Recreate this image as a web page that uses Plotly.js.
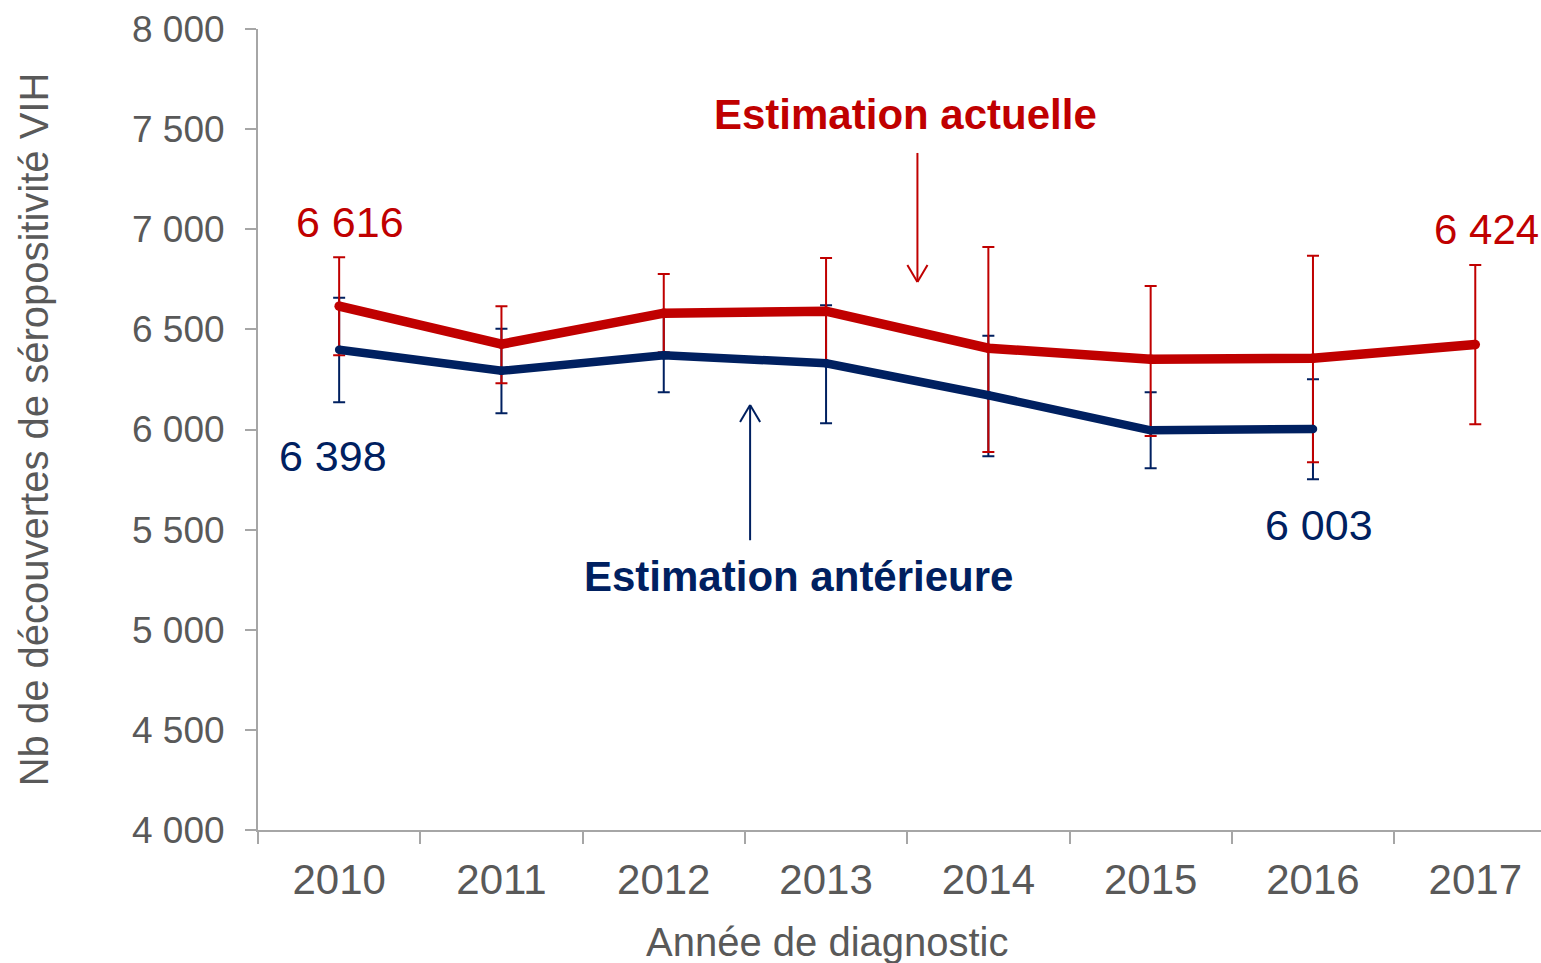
<!DOCTYPE html>
<html>
<head>
<meta charset="utf-8">
<script src="https://cdn.plot.ly/plotly-3.0.1.min.js"></script>
<style>
html,body{margin:0;padding:0;background:#fff;}
#chart{width:1541px;height:963px;}
</style>
</head>
<body>
<div id="chart"></div>
<script>
// ---- data ----
const years = ['2010','2011','2012','2013','2014','2015','2016','2017'];

const actuelle      = [6616, 6426, 6581, 6591, 6406, 6351, 6356, 6424];
const actuelleHigh  = [6860, 6616, 6776, 6856, 6911, 6716, 6868, 6821];
const actuelleLow   = [6371, 6231, 6386, 6326, 5888, 5967, 5836, 6026];

const anterieure     = [6398, 6293, 6371, 6331, 6171, 5996, 6003];
const anterieureHigh = [6658, 6503, 6570, 6621, 6468, 6186, 6251];
const anterieureLow  = [6136, 6081, 6186, 6031, 5866, 5806, 5751];

const yTickVals = [4000, 4500, 5000, 5500, 6000, 6500, 7000, 7500, 8000];

const RED = '#C00000';
const NAVY = '#002060';
const GREY = '#595959';
const AXIS = '#A6A6A6';
const FONT = 'Liberation Sans, Arial, Helvetica, sans-serif';

function fmt(v){ return String(v).replace(/\B(?=(\d{3})+(?!\d))/g, ' '); }
function plus(hi, v){ return hi.map((h,i)=>h - v[i]); }
function minus(lo, v){ return lo.map((l,i)=>v[i] - l); }

const yearsAnt = years.slice(0, anterieure.length);

const traces = [
  { // navy error bars (below lines)
    x: yearsAnt, y: anterieure, type: 'scatter', mode: 'markers',
    marker: {size: 1, color: 'rgba(0,0,0,0)'},
    error_y: {type: 'data', symmetric: false, array: plus(anterieureHigh, anterieure),
              arrayminus: minus(anterieureLow, anterieure), color: NAVY, thickness: 2, width: 6},
    hoverinfo: 'skip', showlegend: false
  },
  { // red error bars
    x: years, y: actuelle, type: 'scatter', mode: 'markers',
    marker: {size: 1, color: 'rgba(0,0,0,0)'},
    error_y: {type: 'data', symmetric: false, array: plus(actuelleHigh, actuelle),
              arrayminus: minus(actuelleLow, actuelle), color: RED, thickness: 2, width: 6},
    hoverinfo: 'skip', showlegend: false
  },
  {
    x: yearsAnt, y: anterieure, type: 'scatter', mode: 'lines+markers',
    line: {color: NAVY, width: 8.5}, marker: {color: NAVY, size: 8.5},
    name: 'Estimation antérieure', showlegend: false
  },
  {
    x: years, y: actuelle, type: 'scatter', mode: 'lines+markers',
    line: {color: RED, width: 9.5}, marker: {color: RED, size: 9.5},
    name: 'Estimation actuelle', showlegend: false
  }
];

const lastA = actuelle.length - 1;
const lastB = anterieure.length - 1;

const annotations = [
  {x: 0, y: actuelle[0], text: fmt(actuelle[0]), showarrow: false,
   xshift: 11, yshift: 84, font: {family: FONT, size: 43, color: RED}},
  {x: lastA, y: actuelle[lastA], text: fmt(actuelle[lastA]), showarrow: false,
   xshift: 11, yshift: 115, font: {family: FONT, size: 42, color: RED}},
  {x: 0, y: anterieure[0], text: fmt(anterieure[0]), showarrow: false,
   xshift: -6, yshift: -106, font: {family: FONT, size: 43, color: NAVY}},
  {x: lastB, y: anterieure[lastB], text: fmt(anterieure[lastB]), showarrow: false,
   xshift: 6, yshift: -96, font: {family: FONT, size: 43, color: NAVY}},
  {x: 3.49, y: 7575, text: '<b>Estimation actuelle</b>', showarrow: false,
   font: {family: FONT, size: 42, color: RED}},
  {x: 2.83, y: 5265, text: '<b>Estimation antérieure</b>', showarrow: false,
   font: {family: FONT, size: 42, color: NAVY}},
  {xref: 'paper', yref: 'paper', x: 0.4435, y: -0.1398, xanchor: 'center', yanchor: 'middle',
   text: 'Année de diagnostic', showarrow: false, font: {family: FONT, size: 40, color: GREY}}
];

// arrows
function arrow(x, yFrom, yTo, color){
  const dir = yTo < yFrom ? 1 : -1; // arms go back toward the tail
  const dx = 0.062, dy = 85 * dir;
  const base = {type: 'line', xref: 'x', yref: 'y', line: {color: color, width: 2}};
  return [
    Object.assign({}, base, {x0: x, x1: x, y0: yFrom, y1: yTo}),
    Object.assign({}, base, {x0: x - dx, x1: x, y0: yTo + dy, y1: yTo}),
    Object.assign({}, base, {x0: x + dx, x1: x, y0: yTo + dy, y1: yTo})
  ];
}
const shapes = [].concat(arrow(3.563, 7381, 6737, RED), arrow(2.532, 5447, 6122, NAVY));

const layout = {
  width: 1541, height: 963,
  margin: {l: 258, r: 0, t: 29, b: 133, pad: 0},
  paper_bgcolor: '#fff', plot_bgcolor: '#fff',
  separators: ', ',
  showlegend: false,
  font: {family: FONT, color: GREY},
  xaxis: {
    type: 'category', range: [-0.5, 7.405], tickson: 'boundaries',
    showgrid: false, zeroline: false,
    showline: true, linecolor: AXIS, linewidth: 2,
    ticks: 'outside', ticklen: 12, tickcolor: AXIS, tickwidth: 2,
    tickfont: {family: FONT, size: 42, color: GREY},
    ticklabelstandoff: 12,
    automargin: false, fixedrange: true
  },
  yaxis: {
    range: [4000, 8000], tickvals: yTickVals, tickformat: ',d',
    showgrid: false, zeroline: false,
    showline: true, linecolor: AXIS, linewidth: 2,
    ticks: 'outside', ticklen: 11, tickcolor: AXIS, tickwidth: 2,
    tickfont: {family: FONT, size: 37, color: GREY},
    ticklabelstandoff: 13,
    title: {text: 'Nb de découvertes de séropositivité VIH', font: {family: FONT, size: 40, color: GREY}, standoff: 71},
    automargin: false, fixedrange: true
  },
  annotations: annotations,
  shapes: shapes
};

Plotly.newPlot('chart', traces, layout, {displayModeBar: false, staticPlot: true});
</script>
</body>
</html>
